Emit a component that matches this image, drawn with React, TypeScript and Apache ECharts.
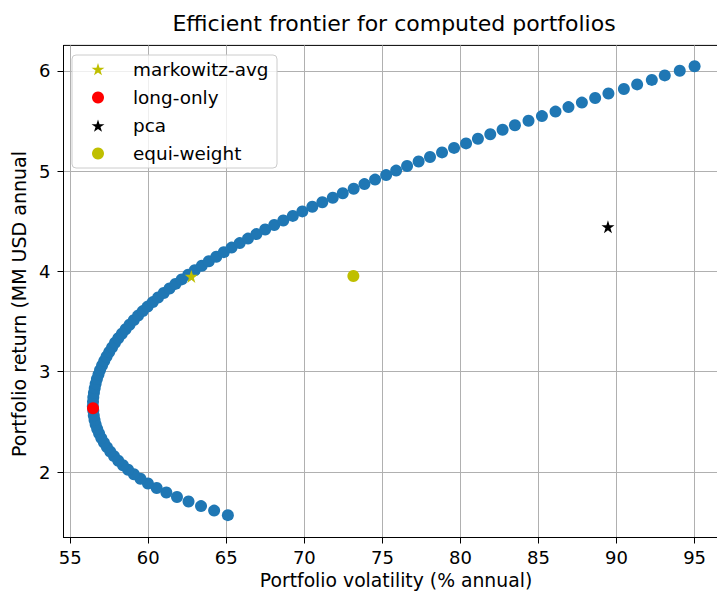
import React, { useEffect, useRef } from "react";
import * as echarts from "echarts";

// Efficient frontier: portfolio volatility (% annual) and return (MM USD annual)
const frontierVolatility = [
  65.1, 64.22, 63.38, 62.58, 61.84, 61.16, 60.54, 59.98, 59.5, 59.08,
  58.71, 58.38, 58.08, 57.81, 57.57, 57.35, 57.16, 56.99, 56.85, 56.73,
  56.63, 56.56, 56.51, 56.48, 56.45, 56.46, 56.48, 56.52, 56.57, 56.63,
  56.71, 56.81, 56.91, 57.04, 57.18, 57.33, 57.5, 57.68, 57.87, 58.08,
  58.31, 58.55, 58.8, 59.07, 59.35, 59.65, 59.96, 60.29, 60.63, 60.99,
  61.36, 61.74, 62.14, 62.56, 62.98, 63.43, 63.88, 64.36, 64.84, 65.34,
  65.86, 66.39, 66.93, 67.49, 68.07, 68.65, 69.26, 69.87, 70.51, 71.15,
  71.82, 72.46, 73.16, 73.85, 74.53, 75.24, 75.88, 76.58, 77.32, 78.05,
  78.82, 79.59, 80.36, 81.12, 81.91, 82.7, 83.49, 84.36, 85.22, 86.09,
  86.92, 87.78, 88.63, 89.48, 90.47, 91.32, 92.26, 93.09, 94.05, 95.0,
];
const frontierReturn = [
  1.57, 1.615, 1.66, 1.706, 1.751, 1.796, 1.841, 1.886, 1.932, 1.977,
  2.022, 2.067, 2.112, 2.158, 2.203, 2.248, 2.293, 2.338, 2.384, 2.429,
  2.474, 2.519, 2.564, 2.61, 2.655, 2.7, 2.745, 2.79, 2.836, 2.881,
  2.926, 2.971, 3.016, 3.062, 3.107, 3.152, 3.197, 3.242, 3.288, 3.333,
  3.378, 3.423, 3.468, 3.514, 3.559, 3.604, 3.649, 3.694, 3.74, 3.785,
  3.83, 3.875, 3.92, 3.966, 4.011, 4.056, 4.101, 4.146, 4.192, 4.237,
  4.282, 4.327, 4.372, 4.418, 4.463, 4.508, 4.553, 4.598, 4.644, 4.689,
  4.734, 4.779, 4.824, 4.87, 4.915, 4.96, 5.005, 5.05, 5.096, 5.141,
  5.186, 5.231, 5.276, 5.322, 5.367, 5.412, 5.457, 5.502, 5.548, 5.593,
  5.638, 5.683, 5.728, 5.774, 5.819, 5.864, 5.909, 5.954, 6.0, 6.045,
];

// Individual portfolios [volatility, return]
const markowitzAvg = [62.76, 3.95];
const longOnly = [56.46, 2.635];
const pca = [89.45, 4.445];
const equiWeight = [73.14, 3.954];

const legendLabels = ["markowitz-avg", "long-only", "pca", "equi-weight"];

const xTicks = [55, 60, 65, 70, 75, 80, 85, 90, 95];
const yTicks = [2, 3, 4, 5, 6];

const FONT = "DejaVu Sans";

function starPoints(cx: number, cy: number, R: number, r: number): number[][] {
  const pts: number[][] = [];
  for (let k = 0; k < 10; k++) {
    const a = -Math.PI / 2 + (k * Math.PI) / 5;
    const rad = k % 2 === 0 ? R : r;
    pts.push([cx + rad * Math.cos(a), cy + rad * Math.sin(a)]);
  }
  return pts;
}

function starSymbol(): string {
  const pts = starPoints(10, 10, 10, 3.82);
  return (
    "path://" +
    pts.map((p, i) => `${i === 0 ? "M" : "L"}${p[0].toFixed(3)} ${p[1].toFixed(3)}`).join(" ") +
    " Z"
  );
}

export default function App() {
  const ref = useRef<HTMLDivElement>(null);

  useEffect(() => {
    if (!ref.current) return;
    const chart = echarts.init(ref.current, null, { renderer: "svg" });
    const star = starSymbol();
    const frontier = frontierVolatility.map((v, i) => [v, frontierReturn[i]]);

    const legendX = 98;
    const legendRows = [69, 97.5, 125.5, 153.5];
    const legendColors = ["#bfbf00", "#ff0000", "#000000", "#bfbf00"];
    const legendIsStar = [true, false, true, false];

    const legendGraphics: any[] = [
      {
        type: "rect",
        shape: { x: 72, y: 55, width: 205, height: 113, r: 4 },
        style: { fill: "rgba(255,255,255,0.8)", stroke: "#cccccc", lineWidth: 1 },
        z: 100,
      },
    ];
    legendLabels.forEach((label, i) => {
      const cy = legendRows[i];
      if (legendIsStar[i]) {
        legendGraphics.push({
          type: "polygon",
          shape: { points: starPoints(legendX, cy + 0.8, 6.8, 2.6) },
          style: { fill: legendColors[i] },
          z: 101,
        });
      } else {
        legendGraphics.push({
          type: "circle",
          shape: { cx: legendX, cy, r: 6 },
          style: { fill: legendColors[i] },
          z: 101,
        });
      }
      legendGraphics.push({
        type: "text",
        x: 133,
        y: cy,
        style: {
          text: label,
          fill: "#000000",
          font: `18.4px "${FONT}"`,
          align: "left",
          verticalAlign: "middle",
        },
        z: 101,
      });
    });

    chart.setOption({
      animation: false,
      textStyle: { fontFamily: FONT },
      grid: {
        left: 63.5,
        top: 45.4,
        right: 14.5,
        bottom: 53.5,
        show: true,
        borderColor: "#000000",
        borderWidth: 1,
        backgroundColor: "#ffffff",
      },
      xAxis: {
        type: "value",
        min: 54.57,
        max: 96.98,
        splitNumber: 8,
        minInterval: 5,
        maxInterval: 5,
        axisLine: { show: true, lineStyle: { color: "#000000", width: 1 } },
        axisTick: {
          show: true,
          inside: false,
          length: 6,
          lineStyle: { color: "#000000", width: 1 },
          customValues: xTicks,
        },
        axisLabel: {
          customValues: xTicks,
          color: "#000000",
          fontSize: 18,
          fontFamily: FONT,
          margin: 11,
        },
        splitLine: { show: true, lineStyle: { color: "#b0b0b0", width: 1 } },
      },
      yAxis: {
        type: "value",
        min: 1.347,
        max: 6.253,
        splitNumber: 5,
        minInterval: 1,
        maxInterval: 1,
        axisLine: { show: true, lineStyle: { color: "#000000", width: 1 } },
        axisTick: {
          show: true,
          inside: false,
          length: 6,
          lineStyle: { color: "#000000", width: 1 },
          customValues: yTicks,
        },
        axisLabel: {
          customValues: yTicks,
          color: "#000000",
          fontSize: 18,
          fontFamily: FONT,
          margin: 13,
        },
        splitLine: { show: true, lineStyle: { color: "#b0b0b0", width: 1 } },
      },
      series: [
        {
          name: "frontier",
          type: "scatter",
          data: frontier,
          symbol: "circle",
          symbolSize: 12,
          itemStyle: { color: "#1f77b4", opacity: 1 },
          z: 2,
        },
        {
          name: legendLabels[0],
          type: "scatter",
          data: [markowitzAvg],
          symbol: star,
          symbolSize: 13,
          itemStyle: { color: "#bfbf00", opacity: 1 },
          z: 3,
        },
        {
          name: legendLabels[1],
          type: "scatter",
          data: [longOnly],
          symbol: "circle",
          symbolSize: 12,
          itemStyle: { color: "#ff0000", opacity: 1 },
          z: 3,
        },
        {
          name: legendLabels[2],
          type: "scatter",
          data: [pca],
          symbol: star,
          symbolSize: 13,
          itemStyle: { color: "#000000", opacity: 1 },
          z: 3,
        },
        {
          name: legendLabels[3],
          type: "scatter",
          data: [equiWeight],
          symbol: "circle",
          symbolSize: 12,
          itemStyle: { color: "#bfbf00", opacity: 1 },
          z: 3,
        },
      ],
      graphic: [
        {
          type: "text",
          x: 394,
          y: 23,
          style: {
            text: "Efficient frontier for computed portfolios",
            fill: "#000000",
            font: `22px "${FONT}"`,
            align: "center",
            verticalAlign: "middle",
          },
        },
        {
          type: "text",
          x: 396,
          y: 580,
          style: {
            text: "Portfolio volatility (% annual)",
            fill: "#000000",
            font: `18.8px "${FONT}"`,
            align: "center",
            verticalAlign: "middle",
          },
        },
        {
          type: "text",
          x: 19,
          y: 304,
          rotation: Math.PI / 2,
          style: {
            text: "Portfolio return (MM USD annual",
            fill: "#000000",
            font: `19px "${FONT}"`,
            align: "center",
            verticalAlign: "middle",
          },
        },
        ...legendGraphics,
      ],
    });
    return () => chart.dispose();
  }, []);

  return (
    <div
      style={{
        position: "fixed",
        left: 0,
        top: 0,
        width: 717,
        height: 591,
        overflow: "hidden",
        background: "#ffffff",
      }}
    >
      <div ref={ref} style={{ width: 740, height: 591 }} />
    </div>
  );
}
